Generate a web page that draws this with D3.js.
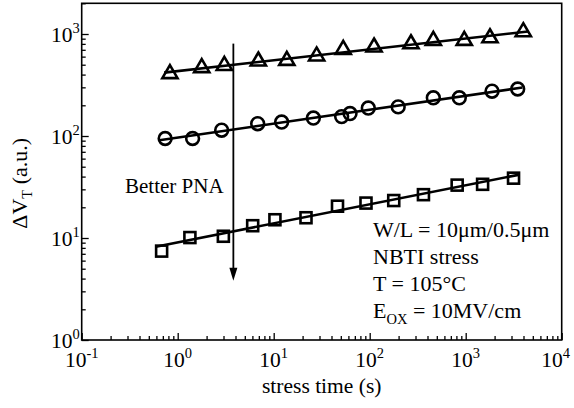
<!DOCTYPE html>
<html>
<head>
<meta charset="utf-8">
<script src="https://cdn.jsdelivr.net/npm/d3@7"></script>
<style>
  body { margin: 0; background: #fff; }
  svg { display: block; }
  text { font-family: "Liberation Serif", "Times New Roman", serif; fill: #000; }
</style>
</head>
<body>
<svg id="chart" width="574" height="408"></svg>
<script>
// ΔV_T versus stress time for three nitridation conditions (NBTI stress)
const triTime = [0.83, 1.78, 3.06, 6.92, 13.7, 28, 53, 111, 269, 460, 966, 1790, 3980];
const triDVT  = [407, 466, 490, 542, 549, 607, 703, 743, 800, 862, 862, 916, 1049];

const cirTime = [0.74, 1.43, 2.87, 6.81, 12.1, 25.9, 51, 62.4, 96.7, 198, 460, 858, 1880, 3480];
const cirDVT  = [94.5, 94.5, 114, 132, 137, 150, 155, 166, 188, 193, 237, 237, 275, 289];

const sqTime = [0.68, 1.34, 2.99, 6.04, 10.3, 21.7, 46.2, 91.5, 178, 363, 815, 1500, 3150];
const sqDVT  = [7.44, 10.1, 10.4, 13.2, 15.1, 15.8, 20.5, 22.0, 23.3, 26.6, 33.0, 33.6, 38.6];

const xTickExps = [-1, 0, 1, 2, 3, 4];
const yTickExps = [0, 1, 2, 3];

// arrow: "Better PNA" direction
const arrowTime = 3.8;
const arrowFrom = 805;
const arrowTo = 3.8;
const arrowLabel = "Better PNA";

const conditionLines = ["W/L = 10\u03bcm/0.5\u03bcm", "NBTI stress", "T = 105\u00b0C"];
const fieldLabel = { main: "E", sub: "OX", rest: " = 10MV/cm" };

const xTitle = "stress time (s)";

const margin = { left: 81.7, right: 12.3, top: 3.3, bottom: 68 };
const W = 574, H = 408;
const iw = W - margin.left - margin.right;
const ih = H - margin.top - margin.bottom;

const svg = d3.select("#chart");
const g = svg.append("g").attr("transform", `translate(${margin.left},${margin.top})`);

const x = d3.scaleLog().domain([0.1, 1e4]).range([0, iw]);
const y = d3.scaleLog().domain([1, 2000]).range([ih, 0]);

// tick values: decades and in-between minors
const xMajor = xTickExps.map(e => Math.pow(10, e));
const xMinor = [];
xTickExps.slice(0, -1).forEach(e => { for (let k = 2; k <= 9; k++) xMinor.push(k * Math.pow(10, e)); });
const yMajor = yTickExps.map(e => Math.pow(10, e));
const yMinor = [];
yTickExps.forEach(e => { for (let k = 2; k <= 9; k++) { const v = k * Math.pow(10, e); if (v <= 2000) yMinor.push(v); } });

const tickStroke = sel => sel.selectAll("line").attr("stroke", "#000").attr("stroke-width", 1.3);

// bottom axis ticks pointing inward
const gx = g.append("g").attr("transform", `translate(0,${ih})`);
gx.append("g").call(d3.axisBottom(x).tickValues(xMajor).tickSize(-7).tickFormat(""))
  .call(a => a.select(".domain").remove()).call(tickStroke);
gx.append("g").call(d3.axisBottom(x).tickValues(xMinor).tickSize(-4).tickFormat(""))
  .call(a => a.select(".domain").remove()).call(tickStroke);

const gy = g.append("g");
gy.append("g").call(d3.axisLeft(y).tickValues(yMajor).tickSize(-7).tickFormat(""))
  .call(a => a.select(".domain").remove()).call(tickStroke);
gy.append("g").call(d3.axisLeft(y).tickValues(yMinor).tickSize(-4).tickFormat(""))
  .call(a => a.select(".domain").remove()).call(tickStroke);

// frame
g.append("rect").attr("width", iw).attr("height", ih)
  .attr("fill", "none").attr("stroke", "#000").attr("stroke-width", 1.6);

// tick labels with superscript exponents
const fs = 21.5, sup = 14.5;
xTickExps.forEach((e, i) => {
  const last = i === xTickExps.length - 1;
  const t = g.append("text")
    .attr("x", last ? W - 4 - margin.left : x(Math.pow(10, e)))
    .attr("y", ih + 27)
    .attr("text-anchor", last ? "end" : "middle").attr("font-size", fs);
  t.append("tspan").text("10");
  t.append("tspan").attr("font-size", sup).attr("dy", -9).text(e < 0 ? "-" + (-e) : String(e));
});
yTickExps.forEach(e => {
  const t = g.append("text").attr("x", -2).attr("y", y(Math.pow(10, e)) + 8)
    .attr("text-anchor", "end").attr("font-size", fs);
  t.append("tspan").text("10");
  t.append("tspan").attr("font-size", sup).attr("dy", -9).text(String(e));
});

// axis titles
g.append("text").attr("x", iw / 2).attr("y", ih + 53)
  .attr("text-anchor", "middle").attr("font-size", fs).text(xTitle);

const yt = svg.append("text").attr("transform", `translate(27,${margin.top + 180}) rotate(-90)`)
  .attr("text-anchor", "middle").attr("font-size", 22);
yt.append("tspan").text("\u0394V");
yt.append("tspan").attr("font-size", sup).attr("dy", 5).text("T");
yt.append("tspan").attr("dy", -5).text(" (a.u.)");

// power-law fit in log-log space, drawn across the measured time span
function fitLine(ts, vs) {
  const lx = ts.map(Math.log10), ly = vs.map(Math.log10);
  const mx = d3.mean(lx), my = d3.mean(ly);
  const b = d3.sum(lx, (v, i) => (v - mx) * (ly[i] - my)) / d3.sum(lx, v => (v - mx) * (v - mx));
  const a = my - b * mx;
  const t0 = d3.min(ts) / 1.15, t1 = d3.max(ts) * 1.12;
  return [t0, t1].map(t => [t, Math.pow(10, a + b * Math.log10(t))]);
}

const line = d3.line().x(d => x(d[0])).y(d => y(d[1]));
const series = [
  { ts: triTime, vs: triDVT, shape: "tri" },
  { ts: cirTime, vs: cirDVT, shape: "cir" },
  { ts: sqTime, vs: sqDVT, shape: "sq" }
];

series.forEach(s => {
  g.append("path").datum(fitLine(s.ts, s.vs)).attr("d", line)
    .attr("fill", "none").attr("stroke", "#000").attr("stroke-width", 2.6);
});

// open markers
const mk = { stroke: "#000", width: 2.6 };
series.forEach(s => {
  const pts = s.ts.map((t, i) => [x(t), y(s.vs[i])]);
  const grp = g.append("g").attr("fill", "none").attr("stroke", mk.stroke).attr("stroke-width", mk.width);
  if (s.shape === "cir") {
    grp.selectAll("circle").data(pts).join("circle")
      .attr("cx", d => d[0]).attr("cy", d => d[1]).attr("r", 6.4);
  } else if (s.shape === "sq") {
    grp.selectAll("rect").data(pts).join("rect")
      .attr("x", d => d[0] - 5.5).attr("y", d => d[1] - 5.5).attr("width", 11).attr("height", 11);
  } else {
    // triangle with its centroid on the data point
    const hw = 7.6, h = 13;
    grp.selectAll("path").data(pts).join("path")
      .attr("stroke-linejoin", "miter")
      .attr("d", d => `M${d[0]},${d[1] - 2 * h / 3}L${d[0] + hw},${d[1] + h / 3}L${d[0] - hw},${d[1] + h / 3}Z`);
  }
});

// arrow
const ax = x(arrowTime), ay0 = y(arrowFrom), ay1 = y(arrowTo);
g.append("line").attr("x1", ax).attr("x2", ax).attr("y1", ay0).attr("y2", ay1 - 10)
  .attr("stroke", "#000").attr("stroke-width", 1.8);
g.append("path").attr("d", `M${ax},${ay1}L${ax - 4},${ay1 - 13}L${ax + 4},${ay1 - 13}Z`).attr("fill", "#000");

g.append("text").attr("x", 125 - margin.left).attr("y", 193 - margin.top)
  .attr("font-size", 21).text(arrowLabel);

// test condition block
const bx = 373 - margin.left, cfs = 22;
conditionLines.forEach((s, i) => {
  g.append("text").attr("x", bx).attr("y", 237.3 - margin.top + i * 27).attr("font-size", cfs).text(s);
});
const ft = g.append("text").attr("x", bx).attr("y", 237.3 - margin.top + 3 * 27).attr("font-size", cfs);
ft.append("tspan").text(fieldLabel.main);
ft.append("tspan").attr("font-size", sup).attr("dy", 6).text(fieldLabel.sub);
ft.append("tspan").attr("dy", -6).text(fieldLabel.rest);
</script>
</body>
</html>
